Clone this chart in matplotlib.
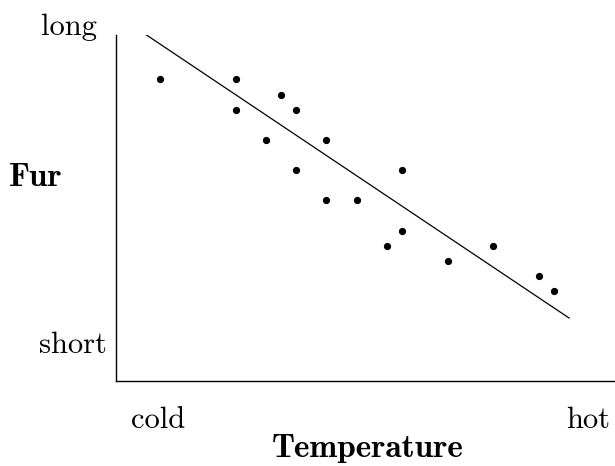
import matplotlib
matplotlib.use("Agg")
import matplotlib.pyplot as plt

# fur length vs temperature (arbitrary 0-10 scale)
temp = [0.88, 2.40, 2.40, 3.01, 3.31, 3.61, 3.61, 4.21, 4.21, 4.83,
        5.43, 5.73, 5.73, 6.65, 7.56, 8.48, 8.78]
fur = [8.73, 8.73, 7.83, 6.97, 8.27, 7.83, 6.10, 6.97, 5.23, 5.23,
       3.90, 6.10, 4.34, 3.47, 3.90, 3.03, 2.60]

# trend line end points
trend_x = [0.58, 9.08]
trend_y = [10.03, 1.82]

W, H = 615, 466
fig = plt.figure(figsize=(W / 100, H / 100), dpi=100)
ax = fig.add_axes([116 / W, 1 - 381 / H, 1 - 116 / W, (381 - 35) / H])

ax.plot(trend_x, trend_y, color="black", lw=0.9)
ax.plot(temp, fur, "o", color="black", ms=4.2)

ax.set_xlim(0, 10)
ax.set_ylim(0, 10)
ax.set_xticks([])
ax.set_yticks([])
for s in ["top", "right"]:
    ax.spines[s].set_visible(False)
for s in ["left", "bottom"]:
    ax.spines[s].set_linewidth(1.0)

rm = dict(fontname="cmr10", fontsize=22)
bf = dict(fontname="cmb10", fontsize=24)

def px(x, y):
    return x / W, 1 - y / H

fig.text(*px(97, 35), "long", ha="right", va="baseline", **rm)
fig.text(*px(107, 353), "short", ha="right", va="baseline", **rm)
fig.text(*px(131, 428), "cold", ha="left", va="baseline", **rm)
fig.text(*px(610, 428), "hot", ha="right", va="baseline", **rm)
fig.text(*px(36, 186), "Fur", ha="center", va="baseline", **bf)
fig.text(*px(368, 457), "Temperature", ha="center", va="baseline", **bf)

fig.savefig("out.png", dpi=100)
